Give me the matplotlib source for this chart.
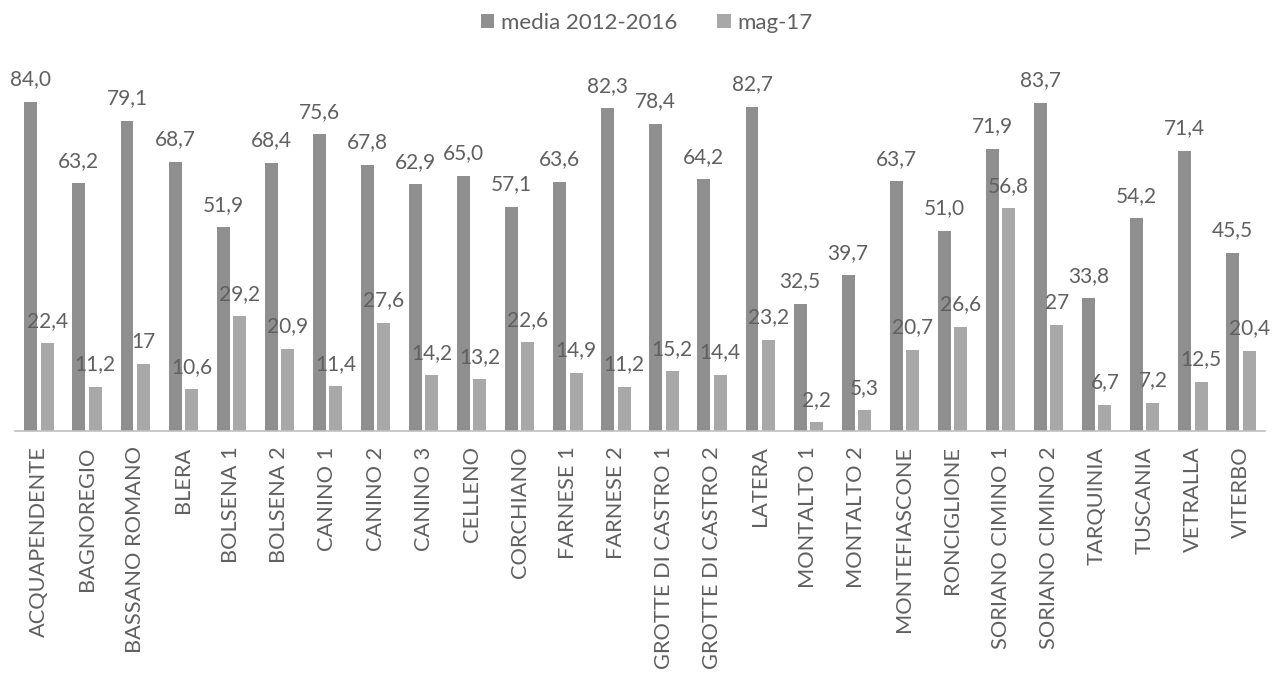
import matplotlib
matplotlib.use("Agg")
import matplotlib.pyplot as plt
import numpy as np

categories = ["ACQUAPENDENTE", "BAGNOREGIO", "BASSANO ROMANO", "BLERA", "BOLSENA 1",
              "BOLSENA 2", "CANINO 1", "CANINO 2", "CANINO 3", "CELLENO", "CORCHIANO",
              "FARNESE 1", "FARNESE 2", "GROTTE DI CASTRO 1", "GROTTE DI CASTRO 2",
              "LATERA", "MONTALTO 1", "MONTALTO 2", "MONTEFIASCONE", "RONCIGLIONE",
              "SORIANO CIMINO 1", "SORIANO CIMINO 2", "TARQUINIA", "TUSCANIA",
              "VETRALLA", "VITERBO"]
media_2012_2016 = [84.0, 63.2, 79.1, 68.7, 51.9, 68.4, 75.6, 67.8, 62.9, 65.0, 57.1,
                   63.6, 82.3, 78.4, 64.2, 82.7, 32.5, 39.7, 63.7, 51.0, 71.9, 83.7,
                   33.8, 54.2, 71.4, 45.5]
mag_17 = [22.4, 11.2, 17, 10.6, 29.2, 20.9, 11.4, 27.6, 14.2, 13.2, 22.6, 14.9, 11.2,
          15.2, 14.4, 23.2, 2.2, 5.3, 20.7, 26.6, 56.8, 27, 6.7, 7.2, 12.5, 20.4]
series_names = ["media 2012-2016", "mag-17"]

plt.rcParams['font.family'] = ['Lato', 'DejaVu Sans']
fig = plt.figure(figsize=(12.81, 6.76), dpi=100)
ax = fig.add_axes([0.0117, 0.3624, 0.9758, 0.5222])

x = np.arange(len(categories))
w = 0.27
c1 = "#8f8f8f"
c2 = "#a8a8a8"
tc = "#606060"
b1 = ax.bar(x - 0.17, media_2012_2016, w, color=c1, label=series_names[0])
b2 = ax.bar(x + 0.17, mag_17, w, color=c2, label=series_names[1])

for xi, v in zip(x, media_2012_2016):
    ax.annotate(f"{v:.1f}".replace(".", ","), (xi - 0.17, v), xytext=(0, 9),
                textcoords="offset points", ha="center", va="bottom",
                fontsize=15, color=tc)
for xi, v in zip(x, mag_17):
    ax.annotate(f"{v:g}".replace(".", ","), (xi + 0.17, v), xytext=(0, 9),
                textcoords="offset points", ha="center", va="bottom",
                fontsize=15, color=tc)

ax.set_xlim(-0.5, len(categories) - 0.5)
ax.set_ylim(0, 90)
ax.set_xticks(x)
ax.set_xticklabels(categories, rotation=90, fontsize=15.7, color=tc)
ax.tick_params(axis='x', length=0, pad=11)
ax.set_yticks([])
for s in ["top", "right", "left"]:
    ax.spines[s].set_visible(False)
ax.spines["bottom"].set_color("#bfbfbf")
ax.spines["bottom"].set_linewidth(1.2)

fig.legend(handles=[b1, b2], labels=series_names, loc="upper center",
           bbox_to_anchor=(0.505, 1.01), ncol=2, frameon=False, fontsize=16,
           handlelength=0.6, handleheight=0.6, handletextpad=0.3, columnspacing=1.8,
           labelcolor=tc)

fig.savefig("out.png", dpi=100, facecolor="white")
